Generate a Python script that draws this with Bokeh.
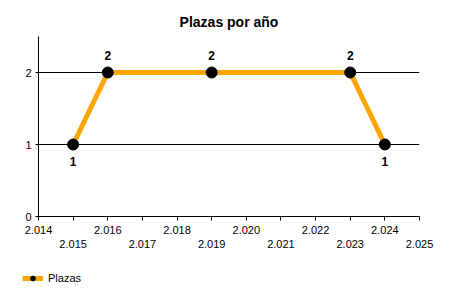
from bokeh.plotting import figure
from bokeh.layouts import column, row
from bokeh.models import (Range1d, FixedTicker, LinearAxis, ColumnDataSource, Legend, LegendItem, Title)
from bokeh.core.properties import value
from bokeh.embed import file_html
from bokeh.resources import INLINE

# Data
years = [2015, 2016, 2019, 2023, 2024]
plazas = [1, 2, 2, 2, 1]
x_ticks = list(range(2014, 2026))
y_ticks = [0, 1, 2]
title_text = "Plazas por año"
series_name = "Plazas"

FONT = "Liberation Sans"
ORANGE = "#FFA500"

def fmt(y):
    return f"{y:,}".replace(",", ".")

p = figure(width=450, height=262, output_backend="svg", toolbar_location=None,
           x_range=Range1d(2014, 2025), y_range=Range1d(0, 2.5),
           x_axis_type=None, y_axis_location="left",
           min_border_left=38, min_border_right=31, min_border_top=36, min_border_bottom=46)
p.outline_line_color = None
p.background_fill_color = "white"
p.border_fill_color = "white"

t = Title(text=title_text, align="center", text_font=FONT, text_font_size="14px",
          text_font_style="bold", text_color="black", offset=0, standoff=14)
p.add_layout(t, "above")

# y axis
ya = p.yaxis[0]
ya.ticker = FixedTicker(ticks=y_ticks)
ya.axis_line_color = "black"
ya.major_tick_line_color = "black"
ya.major_tick_in = 0
ya.major_tick_out = 3
ya.minor_tick_line_color = None
ya.major_label_text_font = FONT
ya.major_label_text_font_size = "11px"
ya.major_label_text_color = "black"
ya.major_label_standoff = 4

p.xgrid.visible = False
p.ygrid.ticker = FixedTicker(ticks=[v for v in y_ticks if v != 0])
p.ygrid.grid_line_color = "black"
p.ygrid.grid_line_alpha = 1.0

# x axis, row 1 (even years) with all ticks
xa1 = LinearAxis(ticker=FixedTicker(ticks=x_ticks))
xa1.major_label_overrides = {y: (fmt(y) if y % 2 == 0 else "") for y in x_ticks}
xa1.axis_line_color = "black"
xa1.major_tick_line_color = "black"
xa1.major_tick_in = 0
xa1.major_tick_out = 4
xa1.minor_tick_line_color = None
xa1.major_label_text_font = FONT
xa1.major_label_text_font_size = "11px"
xa1.major_label_text_color = "black"
xa1.major_label_standoff = 5
p.add_layout(xa1, "below")

# x axis, row 2 (odd years)
odd = [y for y in x_ticks if y % 2 == 1]
xa2 = LinearAxis(ticker=FixedTicker(ticks=odd))
xa2.major_label_overrides = {y: fmt(y) for y in odd}
xa2.axis_line_color = None
xa2.major_tick_line_color = None
xa2.major_tick_in = 0
xa2.major_tick_out = 0
xa2.minor_tick_line_color = None
xa2.major_label_text_font = FONT
xa2.major_label_text_font_size = "11px"
xa2.major_label_text_color = "black"
xa2.major_label_standoff = 3
p.add_layout(xa2, "below")

src = ColumnDataSource(dict(x=years, y=plazas, lbl=[str(v) for v in plazas],
                            yoff=[(-17 if v >= 2 else 17) for v in plazas]))
p.line("x", "y", source=src, line_color=ORANGE, line_width=5)
p.scatter("x", "y", source=src, size=11, fill_color="black", line_color="black")
p.text("x", "y", text="lbl", source=src, y_offset="yoff", text_align="center",
       text_baseline="middle", text_font=value(FONT), text_font_size="12px",
       text_font_style="bold", text_color="black")

# Legend strip (legend-only renderers: no visible data)
p2 = figure(width=450, height=38, output_backend="svg", toolbar_location=None,
            x_range=Range1d(0, 1), y_range=Range1d(0, 1), x_axis_type=None, y_axis_type=None,
            min_border=0, min_border_left=0, min_border_right=0, min_border_top=0, min_border_bottom=0)
p2.outline_line_color = None
p2.xgrid.visible = False
p2.ygrid.visible = False
nan = float("nan")
dummy = ColumnDataSource(dict(x=[nan], y=[nan]))
l2 = p2.line("x", "y", source=dummy, line_color=ORANGE, line_width=5)
s2 = p2.scatter("x", "y", source=dummy, size=6, fill_color="black", line_color="black")
leg = Legend(items=[LegendItem(label=series_name, renderers=[l2, s2])],
             location=(22, 16), orientation="horizontal",
             background_fill_alpha=0, border_line_color=None,
             label_text_font=FONT, label_text_font_size="11px", label_text_color="black",
             glyph_width=21, glyph_height=12, label_standoff=5, padding=0, margin=0,
             label_height=12)
p2.add_layout(leg, "center")

layout = column(p, row(p2, spacing=0), spacing=0)
open("out.html", "w").write(file_html(layout, INLINE))
